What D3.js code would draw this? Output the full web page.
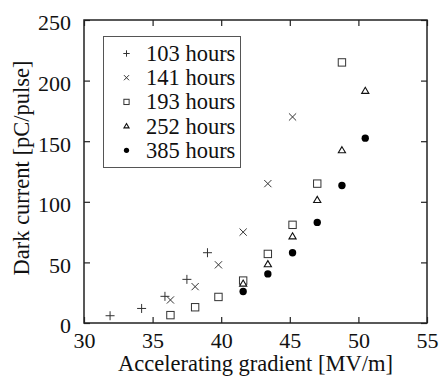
<!DOCTYPE html>
<html>
<head>
<meta charset="utf-8">
<script src="https://cdn.jsdelivr.net/npm/d3@7"></script>
<style>
  body { margin: 0; background: #fff; }
  .axis path { display: none; }
  .axis line { stroke: #222; stroke-width: 1.2; }
</style>
</head>
<body>
<div class="chart"></div>
<script>
// data (x = gradient MV/m, y = pC/pulse)
const series = ["103 hours", "141 hours", "193 hours", "252 hours", "385 hours"];
const symbols = ["plus", "cross", "square", "triangle", "circle"];
const gradient103 = [31.9, 34.2, 35.9, 37.5, 39.0];
const current103 = [6, 12, 22, 36, 58];
const gradient141 = [36.3, 38.1, 39.8, 41.6, 43.4, 45.2];
const current141 = [19, 30, 48, 75, 115, 170];
const gradient193 = [36.3, 38.1, 39.8, 41.6, 43.4, 45.2, 47.0, 48.8];
const current193 = [6.5, 13, 21.5, 35, 57, 81, 115, 215];
const gradient252 = [41.6, 43.4, 45.2, 47.0, 48.8, 50.5];
const current252 = [32.5, 48.5, 71.5, 101.5, 142.5, 191.5];
const gradient385 = [41.6, 43.4, 45.2, 47.0, 48.8, 50.5];
const current385 = [26, 40.5, 58, 83, 113.5, 152.5];
const xTicks = [30, 35, 40, 45, 50, 55];
const yTicks = [0, 50, 100, 150, 200, 250];

const gradients = [gradient103, gradient141, gradient193, gradient252, gradient385];
const currents = [current103, current141, current193, current252, current385];

const FONT = "'Liberation Serif', 'Times New Roman', Times, serif";
const W = 440, H = 377;
const margin = {top: 20, left: 84, right: 13, bottom: 54};
const width = W - margin.left - margin.right;
const height = H - margin.top - margin.bottom;

const svg = d3.select(".chart").append("svg")
    .attr("width", W)
    .attr("height", H)
    .style("display", "block");

const g = svg.append("g")
    .attr("transform", `translate(${margin.left},${margin.top})`);

const xScale = d3.scaleLinear().domain([30, 55]).range([0, width]);
const yScale = d3.scaleLinear().domain([0, 250]).range([height, 0]);

// inward ticks on all four sides
const xAxisG = g.append("g").attr("class", "axis")
    .attr("transform", `translate(0,${height})`)
    .call(d3.axisBottom(xScale).tickValues(xTicks).tickSize(-6).tickPadding(9).tickFormat(d3.format("d")));
g.append("g").attr("class", "axis")
    .call(d3.axisTop(xScale).tickValues(xTicks).tickSize(-6).tickFormat(""));
const yAxisG = g.append("g").attr("class", "axis")
    .call(d3.axisLeft(yScale).tickValues(yTicks).tickSize(-6).tickPadding(13).tickFormat(d3.format("d")));
yAxisG.selectAll("text").attr("dy", "0.45em");
g.append("g").attr("class", "axis")
    .attr("transform", `translate(${width},0)`)
    .call(d3.axisRight(yScale).tickValues(yTicks).tickSize(-6).tickFormat(""));

[xAxisG, yAxisG].forEach(a => a
    .attr("font-family", FONT).attr("font-size", 22)
    .selectAll("text").attr("fill", "#111"));

// frame
g.append("rect")
    .attr("width", width).attr("height", height)
    .attr("fill", "none").attr("stroke", "#222").attr("stroke-width", 1.5);

// marker drawing
function marker(sel, type, r) {
    const c = "#333";
    if (type === "plus") {
        sel.append("path").attr("d", `M${-r},0H${r}M0,${-r}V${r}`)
            .attr("stroke", c).attr("stroke-width", 1).attr("fill", "none");
    } else if (type === "cross") {
        const a = r * 0.8;
        sel.append("path").attr("d", `M${-a},${-a}L${a},${a}M${-a},${a}L${a},${-a}`)
            .attr("stroke", c).attr("stroke-width", 1).attr("fill", "none");
    } else if (type === "square") {
        const a = r * 0.82;
        sel.append("rect").attr("x", -a).attr("y", -a).attr("width", 2 * a).attr("height", 2 * a)
            .attr("stroke", c).attr("stroke-width", 1).attr("fill", "#fff");
    } else if (type === "triangle") {
        const a = r * 0.8;
        sel.append("path").attr("d", `M0,${-a}L${a},${a * 0.7}L${-a},${a * 0.7}Z`)
            .attr("stroke", "#111").attr("stroke-width", 1.1).attr("fill", "#fff");
    } else {
        sel.append("circle").attr("r", r * 0.82).attr("fill", "#000");
    }
}

// points
series.forEach((name, i) => {
    const pts = gradients[i].map((x, j) => ({x: x, y: currents[i][j]}));
    g.selectAll(".pt" + i)
        .data(pts)
        .enter().append("g")
        .attr("class", "pt" + i)
        .attr("transform", d => `translate(${xScale(d.x)},${yScale(d.y)})`)
        .each(function() { marker(d3.select(this), symbols[i], 4.5); });
});

// legend
const legend = svg.append("g").attr("font-family", FONT);
legend.append("rect")
    .attr("x", 103.5).attr("y", 36.5).attr("width", 137).attr("height", 131)
    .attr("fill", "#fff").attr("stroke", "#555").attr("stroke-width", 1);
series.forEach((name, i) => {
    const cy = 53.5 + i * 24.2;
    const row = legend.append("g").attr("transform", `translate(126.5,${cy})`);
    marker(row, symbols[i], 3.2);
    legend.append("text")
        .attr("x", 146).attr("y", cy + 7.5)
        .attr("font-size", 22.5).attr("fill", "#111")
        .text(name);
});

// axis titles
svg.append("text")
    .attr("x", margin.left + width / 2).attr("y", 371)
    .attr("text-anchor", "middle").attr("font-family", FONT)
    .attr("font-size", 22.5).attr("fill", "#111")
    .text("Accelerating gradient [MV/m]");
svg.append("text")
    .attr("transform", `translate(29,168) rotate(-90)`)
    .attr("text-anchor", "middle").attr("font-family", FONT)
    .attr("font-size", 22.5).attr("fill", "#111")
    .text("Dark current [pC/pulse]");
</script>
</body>
</html>
